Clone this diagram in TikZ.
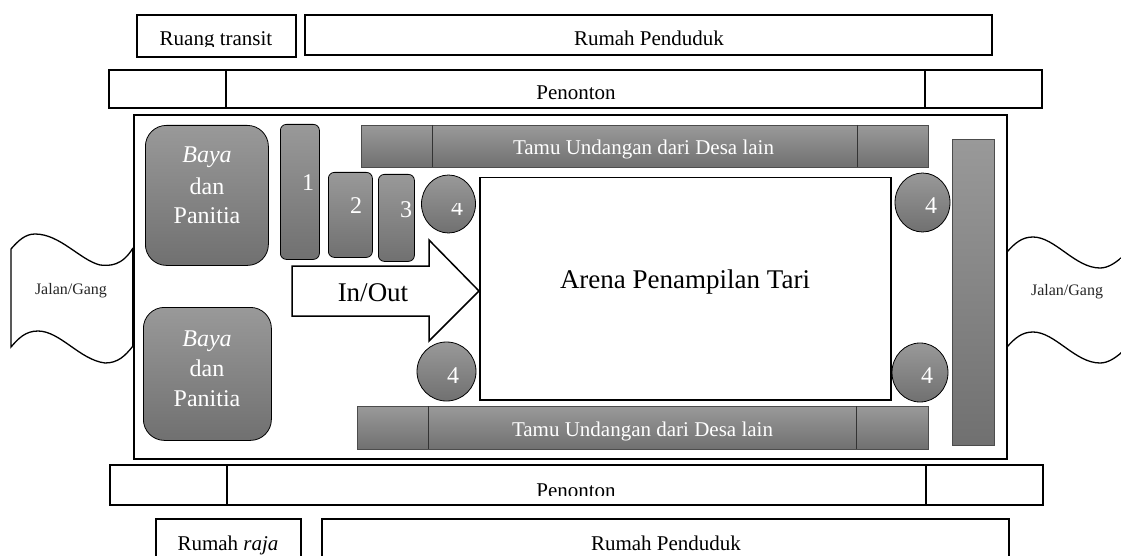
\documentclass[tikz,border=0pt]{standalone}
\usepackage{fontspec}
\usetikzlibrary{shapes.geometric}
\setmainfont{Liberation Serif}
\tikzset{x=1pt,y=-1pt,
 whitebox/.style={draw=black,line width=1.5pt,fill=white},
 thin box/.style={draw=black,line width=0.8pt,top color=black!40,bottom color=black!56},
 band/.style={draw=black!70,line width=0.7pt,top color=black!40,bottom color=black!56},
 wlab/.style={text=white,inner sep=0pt,align=center,anchor=base},
 blab/.style={text=black,inner sep=0pt,align=center,anchor=base},
 fs/.style={font=\fontsize{21}{24}\selectfont},
 fb/.style={font=\fontsize{24}{29}\selectfont},
 fa/.style={font=\fontsize{27}{30}\selectfont},
 fj/.style={font=\fontsize{16}{18}\selectfont,text=black!85},
 oval/.style={thin box,ellipse,inner sep=0pt},
 divider/.style={line width=1.5pt},
 wave/.style={draw=black,line width=1.3pt}}
\begin{document}
\begin{tikzpicture}
\useasboundingbox (0,0) rectangle (1121,556);
% top row
\draw[whitebox] (137,15) rectangle (296,57);
\begin{scope}\clip (137,15) rectangle (296,46.5);
\node[blab,fs] (rt) at (216,46) {Ruang transit};
\end{scope}
\draw[whitebox] (305,15) rectangle (992,55);
\begin{scope}\clip (305,15) rectangle (992,45.5);
\node[blab,fs] (rp) at (649,46) {Rumah Penduduk};
\end{scope}
% Penonton top
\draw[whitebox] (109,70) rectangle (1042,108);
\coordinate (pa) at (226,70);\coordinate (pb) at (226,108);
\coordinate (pc) at (925,70);\coordinate (pd) at (925,108);
\draw[divider] (pa)--(pb) (pc)--(pd);
\begin{scope}\clip (227,70) rectangle (924,99.5);
\node[blab,fs] (pt) at (576,100) {Penonton};
\end{scope}
% waves
\draw[wave,fill=white] (133,248) .. controls (122,266) and (110,266) .. (100,265)
 .. controls (80,260) and (60,234) .. (35,234) .. controls (25,234) and (18,241) .. (11,249)
 -- (11,347) .. controls (18,339) and (25,331) .. (38,331)
 .. controls (60,331) and (80,360) .. (105,363) .. controls (118,363) and (125,356) .. (133,346);
\node[blab,fj] (jl) at (71,294) {Jalan/Gang};
\draw[wave,fill=white] (1007,252) .. controls (1015,243) and (1022,237) .. (1033,237)
 .. controls (1055,237) and (1075,268) .. (1100,268) .. controls (1108,268) and (1115,263) .. (1121,258)
 -- (1121,353) .. controls (1115,358) and (1108,363) .. (1100,363)
 .. controls (1075,363) and (1055,332) .. (1033,332) .. controls (1022,332) and (1015,338) .. (1007,347) -- cycle;
\draw[draw=white,line width=2pt] (1121,259)--(1121,352);
\node[blab,fj] (jr) at (1067,295) {Jalan/Gang};
% main frame
\draw[draw=black,line width=1.6pt] (134,115) rectangle (1007,459);
\draw[line width=2.2pt] (133,248)--(133,346);
% Baya
\node[thin box,rounded corners=21pt,minimum width=123pt,minimum height=140pt,inner sep=0pt,anchor=north west] (b1) at (145,125) {};
\node[wlab,fb] (b1a) at (207,163) {\textit{Baya}};
\node[wlab,fb] (b1b) at (207,194) {dan};
\node[wlab,fb] (b1c) at (207,223) {Panitia};
\node[thin box,rounded corners=21pt,minimum width=128pt,minimum height=133pt,inner sep=0pt,anchor=north west] (b2) at (143,307) {};
\node[wlab,fb] (b2a) at (207,346) {\textit{Baya}};
\node[wlab,fb] (b2b) at (207,376) {dan};
\node[wlab,fb] (b2c) at (207,406) {Panitia};
% 1 2 3
\node[thin box,rounded corners=6pt,minimum width=39pt,minimum height=135pt,inner sep=0pt,anchor=north west] (r1) at (280,124) {};
\node[wlab,fb] (r1t) at (308,191) {1};
\node[thin box,rounded corners=6pt,minimum width=44pt,minimum height=85pt,inner sep=0pt,anchor=north west] (r2) at (328,172) {};
\node[wlab,fb] (r2t) at (356,213) {2};
\node[thin box,rounded corners=6pt,minimum width=36pt,minimum height=87pt,inner sep=0pt,anchor=north west] (r3) at (378,174) {};
\node[wlab,fb] (r3t) at (406,217) {3};
% bands
\node[band,minimum width=567pt,minimum height=42pt,inner sep=0pt,anchor=north west] (t1) at (361,125) {};
\draw[draw=black!80,line width=0.8pt] (432,125)--(432,167) (857,125)--(857,167);
\node[wlab,fs] (t1t) at (643.5,155) {Tamu Undangan dari Desa lain};
\node[band,minimum width=571pt,minimum height=43pt,inner sep=0pt,anchor=north west] (t2) at (357,406) {};
\draw[draw=black!80,line width=0.8pt] (428,406)--(428,449) (856,406)--(856,449);
\node[wlab,fs] (t2t) at (642.5,436) {Tamu Undangan dari Desa lain};
\node[band,minimum width=42pt,minimum height=306pt,inner sep=0pt,anchor=north west] (rb) at (952,139) {};
% arrow
\draw[whitebox,line join=miter] (292,266) -- (429,266) -- (429,240) -- (479,291) -- (429,341) -- (429,316) -- (292,316) -- cycle;
\node[blab,fa] (io) at (373,301) {In/Out};
% arena
\node[whitebox,minimum width=411pt,minimum height=222pt,inner sep=0pt,anchor=north west] (ar) at (479,177) {};
\node[blab,fa] (art) at (685,288) {Arena Penampilan Tari};
% circles
\node[oval,minimum width=54pt,minimum height=58pt] (c1) at (448.5,204) {};
\begin{scope}\clip (430,204) rectangle (480,230);
\node[wlab,fb] (c1t) at (457,215) {4};
\end{scope}
\node[oval,minimum width=59pt,minimum height=59pt] (c2) at (446.5,371.5) {};
\node[wlab,fb] (c2t) at (453,383) {4};
\node[oval,minimum width=55pt,minimum height=59pt] (c3) at (922.5,202.5) {};
\node[wlab,fb] (c3t) at (931,214) {4};
\node[oval,minimum width=56pt,minimum height=59pt] (c4) at (920,372.5) {};
\node[wlab,fb] (c4t) at (927,383) {4};
% Penonton bottom
\draw[whitebox] (110,465) rectangle (1043,505);
\coordinate (qa) at (227,465);\coordinate (qb) at (227,505);
\coordinate (qc) at (926,465);\coordinate (qd) at (926,505);
\draw[divider] (qa)--(qb) (qc)--(qd);
\begin{scope}\clip (228,466) rectangle (925,495.5);
\node[blab,fs] (pb2) at (576,497) {Penonton};
\end{scope}
% bottom row
\draw[whitebox] (156,519) rectangle (301,570);
\node[blab,fs] (rr) at (228,550) {Rumah \textit{raja}};
\draw[whitebox] (322,519) rectangle (1009,570);
\node[blab,fs] (rq) at (666,550) {Rumah Penduduk};
\end{tikzpicture}
\end{document}
